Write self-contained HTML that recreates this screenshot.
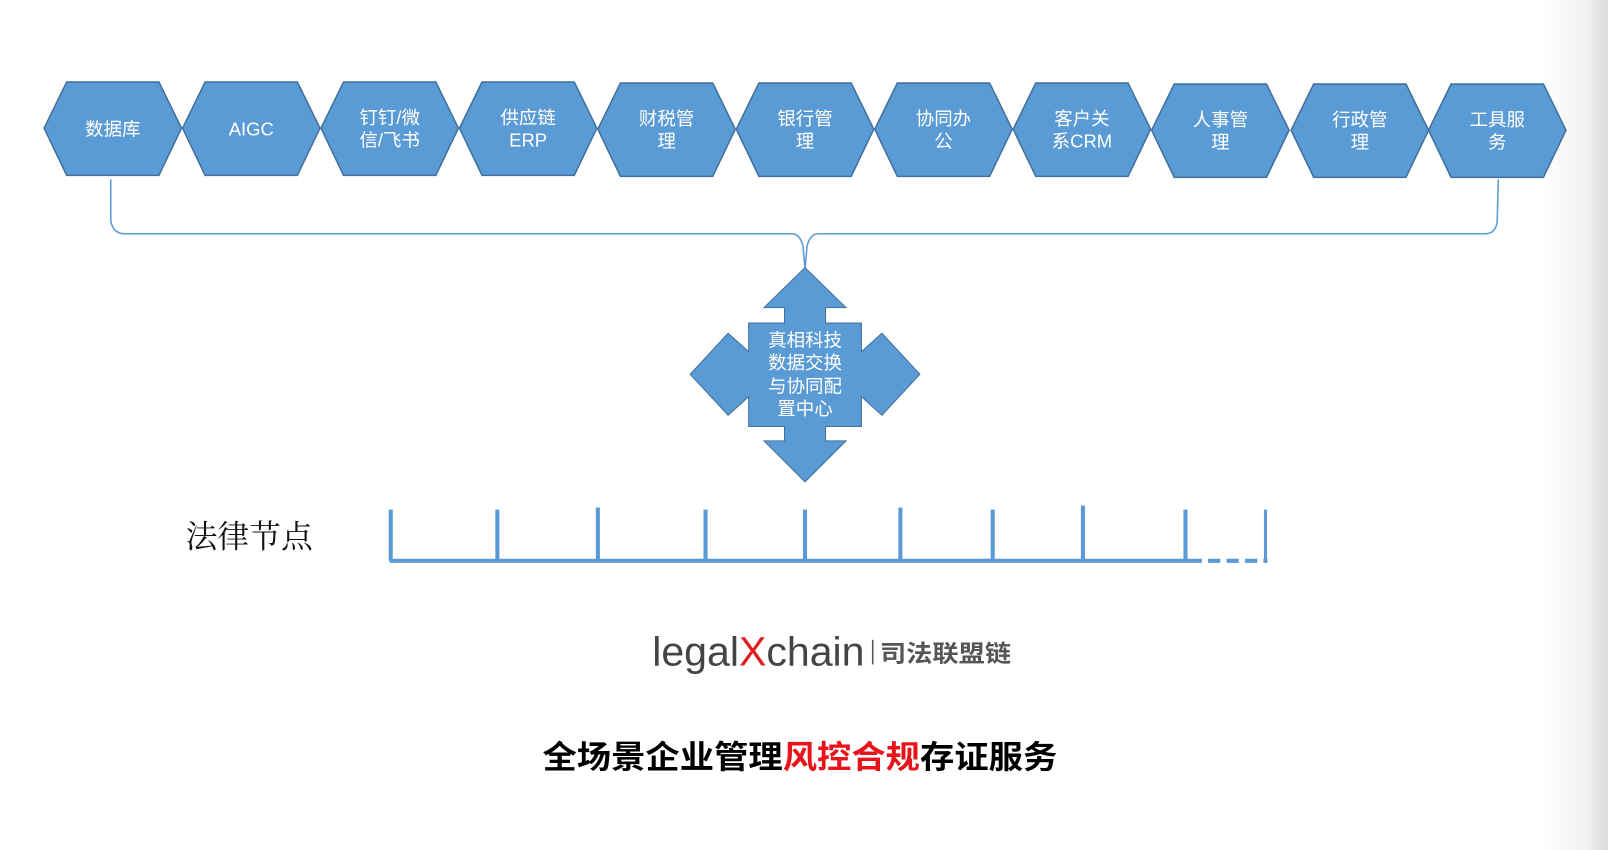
<!DOCTYPE html>
<html><head><meta charset="utf-8"><style>
html,body{margin:0;padding:0;}
body{width:1608px;height:850px;position:relative;overflow:hidden;background:linear-gradient(to right,#fff 0,#fff 1545px,#f2f2f2 1585px,#dcdcdc 1608px);font-family:"Liberation Sans","Noto Sans CJK SC",sans-serif;}
svg{position:absolute;left:0;top:0;}
</style></head><body>
<svg width="1608" height="850" viewBox="0 0 1568 829" preserveAspectRatio="none" font-family="Liberation Sans, Noto Sans CJK SC, sans-serif">
<g fill="#5b9bd5" stroke="#41719c" stroke-width="1.5">
<polygon points="43,125 65,80 155,80 177,125 155,171 65,171"/>
<polygon points="178,125 200,80 290,80 312,125 290,171 200,171"/>
<polygon points="313,125 335,80 425,80 447,125 425,171 335,171"/>
<polygon points="448,125 470,80 560,80 582,125 560,171 470,171"/>
<polygon points="583,126 605,81 695,81 717,126 695,172 605,172"/>
<polygon points="718,126 740,81 830,81 852,126 830,172 740,172"/>
<polygon points="853,126 875,81 965,81 987,126 965,172 875,172"/>
<polygon points="988,126 1010,81 1100,81 1122,126 1100,172 1010,172"/>
<polygon points="1123,127 1145,82 1235,82 1257,127 1235,173 1145,173"/>
<polygon points="1259,127 1281,82 1371,82 1393,127 1371,173 1281,173"/>
<polygon points="1393,127 1415,82 1505,82 1527,127 1505,173 1415,173"/>
</g>
<g fill="#fff" font-size="18" text-anchor="middle">
<text x="110" y="132">数据库</text>
<text x="245" y="132">AIGC</text>
<text x="380" y="121">钉钉/微</text><text x="380" y="143">信/飞书</text>
<text x="515" y="121">供应链</text><text x="515" y="143">ERP</text>
<text x="650" y="122">财税管</text><text x="650" y="144">理</text>
<text x="785" y="122">银行管</text><text x="785" y="144">理</text>
<text x="920" y="122">协同办</text><text x="920" y="144">公</text>
<text x="1055" y="122">客户关</text><text x="1055" y="144">系CRM</text>
<text x="1190" y="123">人事管</text><text x="1190" y="145">理</text>
<text x="1326" y="123">行政管</text><text x="1326" y="145">理</text>
<text x="1460" y="123">工具服</text><text x="1460" y="145">务</text>
</g>
<path d="M108,175 L108,215 Q110,228 122,228 L772,228 Q780,228 783,240 L785,262 M785,262 L787,240 Q790,228 798,228 L1448,228 Q1459,228 1460,215 L1461,175" fill="none" stroke="#5b9bd5" stroke-width="1.5"/>
<polygon fill="#5b9bd5" stroke="#41719c" stroke-width="1" points="785,261 825,300 805,300 805,315 840,315 840,343 860,325 897,365 860,405 840,387 840,416 805,416 805,430 825,430 785,470 745,430 765,430 765,416 730,416 730,387 710,405 673,365 710,325 730,343 730,315 765,315 765,300 745,300"/>
<g fill="#fff" font-size="18" text-anchor="middle">
<text x="785" y="338">真相科技</text>
<text x="785" y="360">数据交换</text>
<text x="785" y="383">与协同配</text>
<text x="785" y="405">置中心</text>
</g>
<text x="243" y="534" font-size="31" text-anchor="middle" fill="#111" font-family="Noto Serif CJK SC, serif">法律节点</text>
<g stroke="#5b9bd5" stroke-width="4">
<line x1="380" y1="547" x2="1160" y2="547"/>
<line x1="1160" y1="547" x2="1236" y2="547" stroke-dasharray="12,6"/>
<line x1="381" y1="497" x2="381" y2="547"/>
<line x1="485" y1="497" x2="485" y2="547"/>
<line x1="583" y1="495" x2="583" y2="547"/>
<line x1="688" y1="497" x2="688" y2="547"/>
<line x1="785" y1="497" x2="785" y2="547"/>
<line x1="878" y1="495" x2="878" y2="547"/>
<line x1="968" y1="497" x2="968" y2="547"/>
<line x1="1056" y1="493" x2="1056" y2="547"/>
<line x1="1156" y1="497" x2="1156" y2="547"/>
<line x1="1234" y1="497" x2="1234" y2="547" stroke-width="3"/>
</g>
<text x="636" y="649" font-size="40" fill="#444" textLength="207" lengthAdjust="spacingAndGlyphs">legal<tspan fill="#e02020">X</tspan>chain</text>
<line x1="851" y1="624" x2="851" y2="648" stroke="#555" stroke-width="1.5"/>
<text x="858" y="645" font-size="23" fill="#555" font-weight="bold" textLength="128" lengthAdjust="spacingAndGlyphs">司法联盟链</text>
<text x="780" y="749" font-size="31" font-weight="bold" text-anchor="middle" fill="#000" textLength="502" lengthAdjust="spacingAndGlyphs">全场景企业管理<tspan fill="#e8141b">风控合规</tspan>存证服务</text>
</svg>
</body></html>
